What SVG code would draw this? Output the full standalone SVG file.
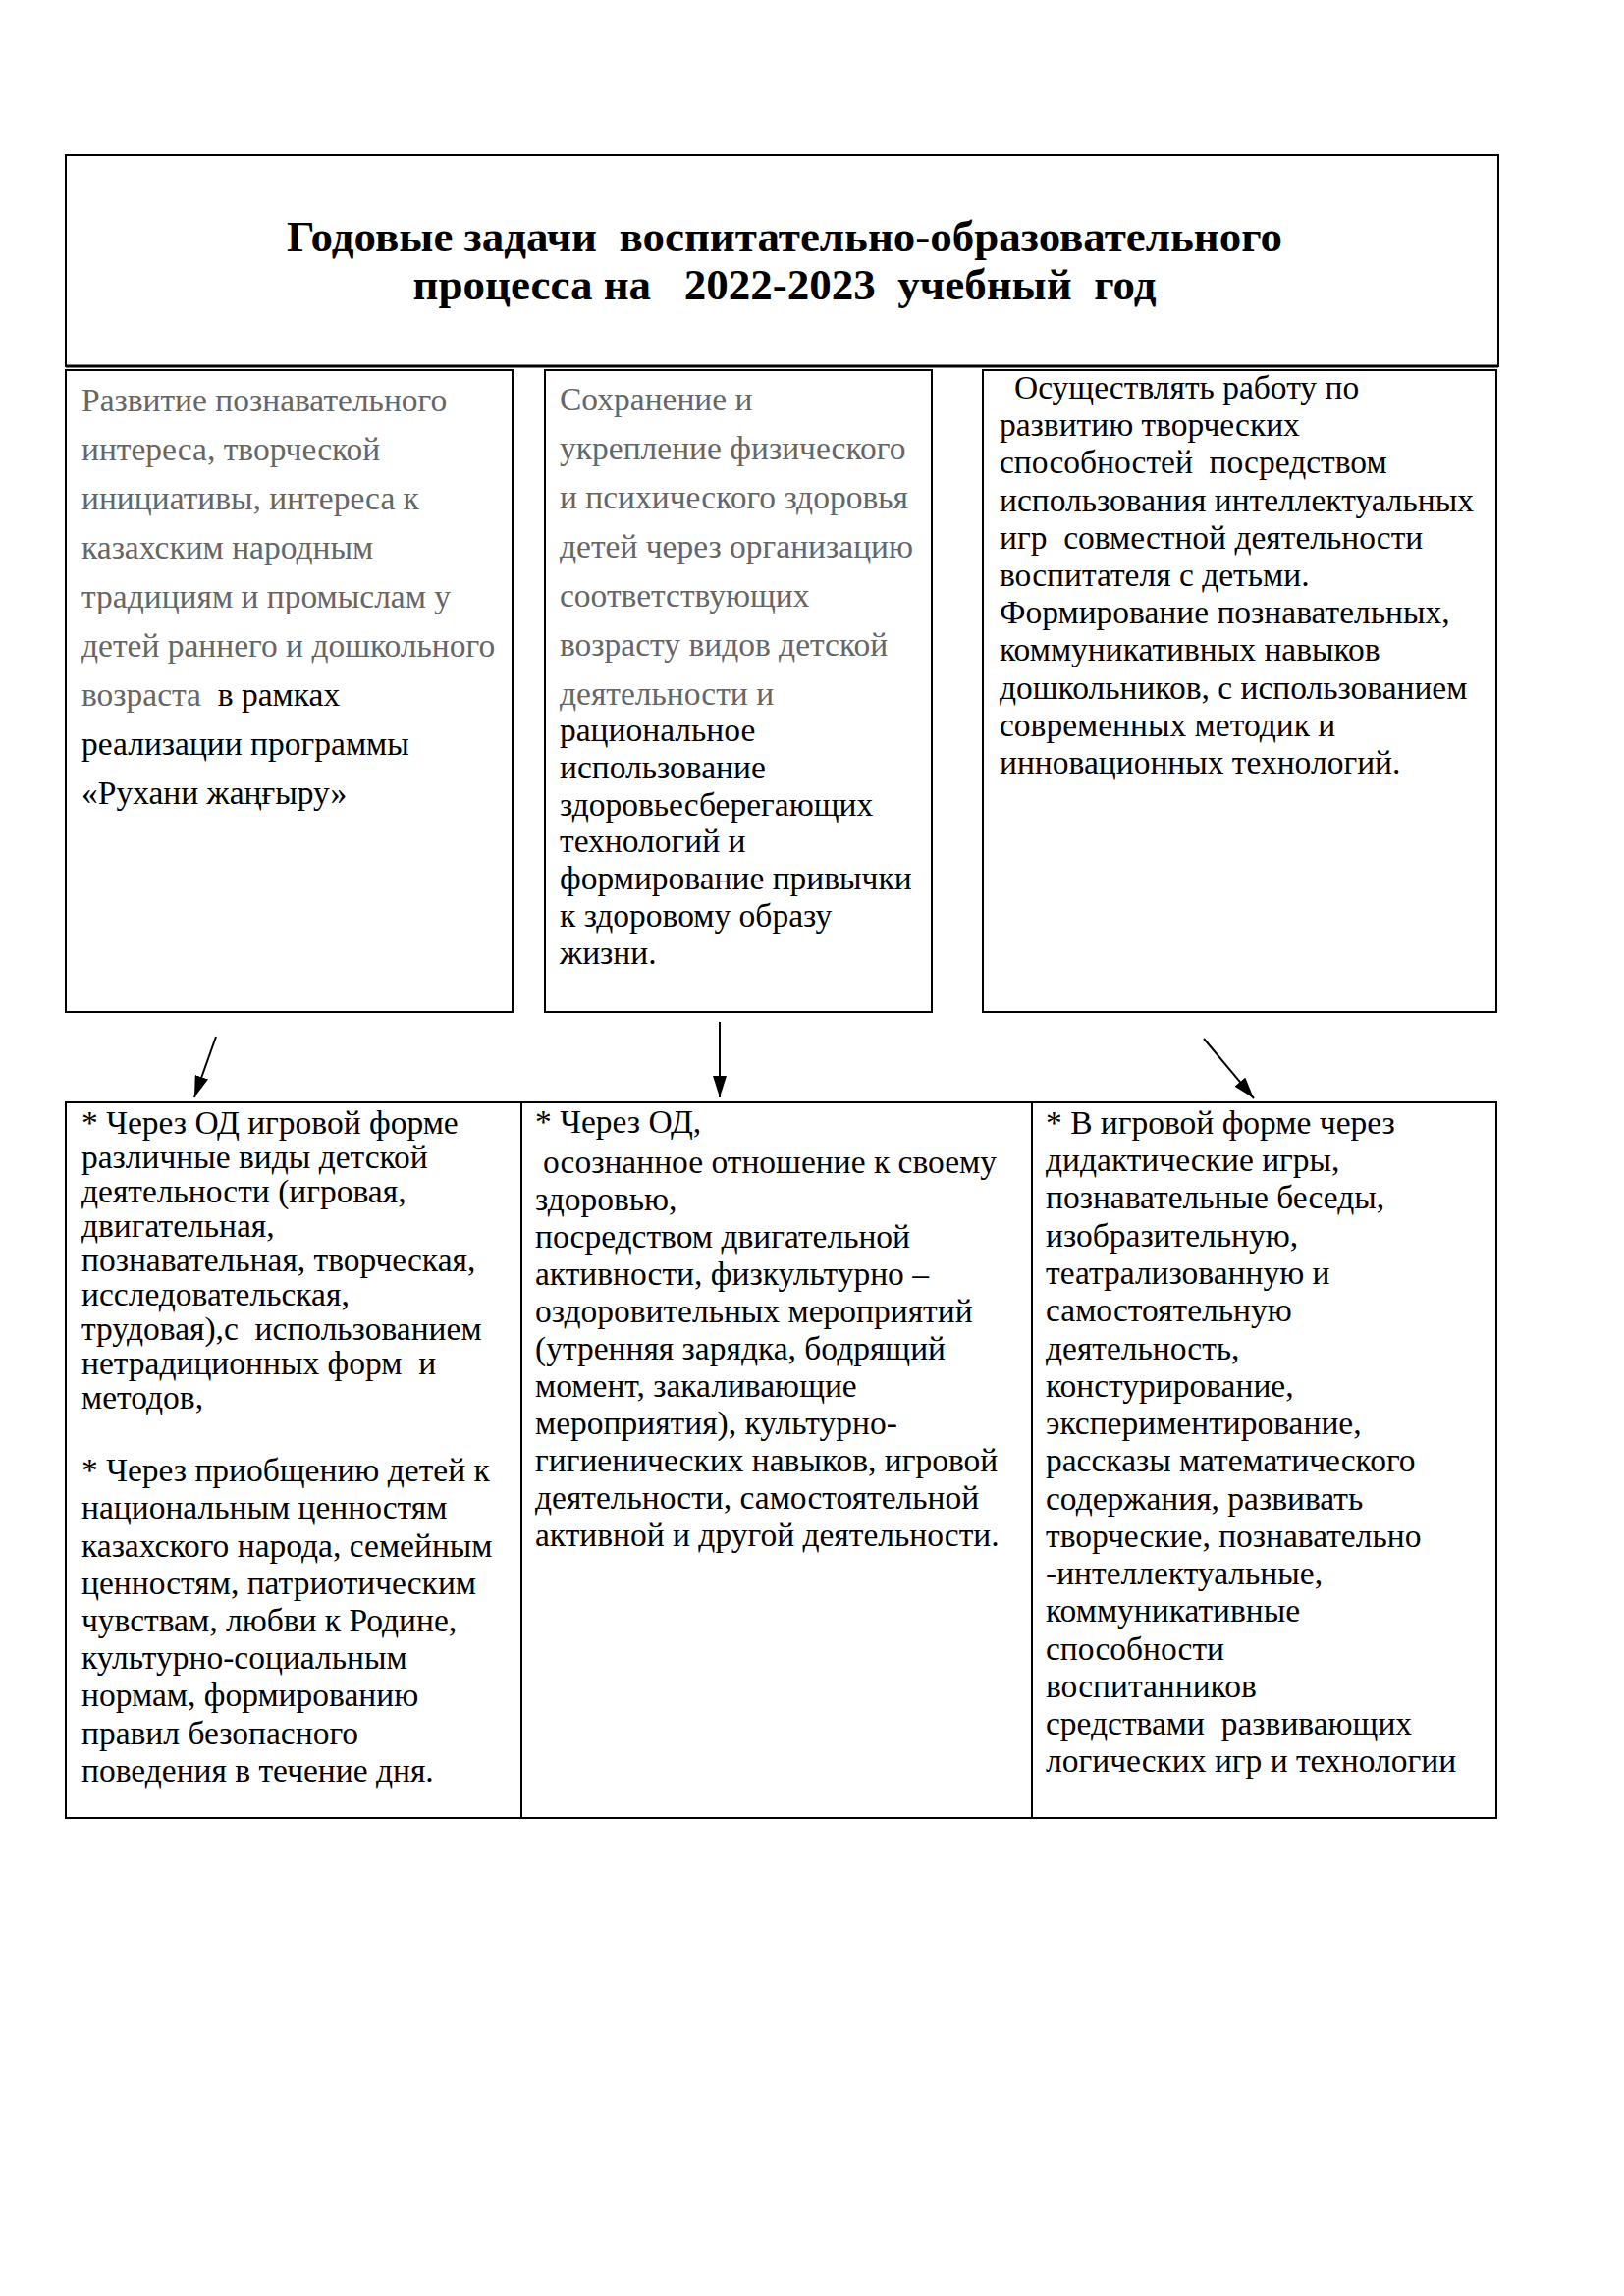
<svg xmlns="http://www.w3.org/2000/svg" width="1654" height="2339" viewBox="0 0 1654 2339" xml:space="preserve">
<style>
.bg{fill:#fff}
.box{fill:none;stroke:#000;stroke-width:2}
.t{font-family:"Liberation Serif","Times New Roman",serif;font-size:33.5px;fill:#000;white-space:pre}
.g{fill:#666}
.title{font-family:"Liberation Serif","Times New Roman",serif;font-size:45px;font-weight:bold;fill:#000;white-space:pre}
.conn{stroke:#000;stroke-width:2;fill:none}
</style>
<defs>
<marker id="ah" markerUnits="userSpaceOnUse" markerWidth="24" markerHeight="14" refX="22" refY="7" orient="auto">
<path d="M0,0 L22,7 L0,14 Z" fill="#000"/>
</marker>
</defs>
<rect class="bg" x="0" y="0" width="1654" height="2339"/>

<g id="title">
<rect class="box" x="67" y="158" width="1459" height="215"/>
<line x1="67" y1="373" x2="1526" y2="373" stroke="#000" stroke-width="3"/>
<text class="title" x="799" y="256" text-anchor="middle">Годовые задачи  воспитательно-образовательного</text>
<text class="title" x="799" y="305" text-anchor="middle">процесса на   2022-2023  учебный  год</text>
</g>

<g id="task1">
<rect class="box" x="67" y="377" width="455" height="654"/>
<text class="t g" x="83" y="419">Развитие познавательного</text>
<text class="t g" x="83" y="469">интереса, творческой</text>
<text class="t g" x="83" y="519">инициативы, интереса к</text>
<text class="t g" x="83" y="569">казахским народным</text>
<text class="t g" x="83" y="619">традициям и промыслам у</text>
<text class="t g" x="83" y="669">детей раннего и дошкольного</text>
<text class="t" x="83" y="719"><tspan class="g">возраста  </tspan>в рамках</text>
<text class="t" x="83" y="769">реализации программы</text>
<text class="t" x="83" y="819">«Рухани жаңғыру»</text>
</g>

<g id="task2">
<rect class="box" x="555" y="377" width="394" height="654"/>
<text class="t g" x="570" y="418">Сохранение и</text>
<text class="t g" x="570" y="468">укрепление физического</text>
<text class="t g" x="570" y="518">и психического здоровья</text>
<text class="t g" x="570" y="568">детей через организацию</text>
<text class="t g" x="570" y="618">соответствующих</text>
<text class="t g" x="570" y="668">возрасту видов детской</text>
<text class="t g" x="570" y="718">деятельности и</text>
<text class="t" x="570" y="755">рациональное</text>
<text class="t" x="570" y="793">использование</text>
<text class="t" x="570" y="831">здоровьесберегающих</text>
<text class="t" x="570" y="868">технологий и</text>
<text class="t" x="570" y="906">формирование привычки</text>
<text class="t" x="570" y="944">к здоровому образу</text>
<text class="t" x="570" y="982">жизни.</text>
</g>

<g id="task3">
<rect class="box" x="1001" y="377" width="523" height="654"/>
<text class="t" x="1033" y="406">Осуществлять работу по</text>
<text class="t" x="1018" y="444">развитию творческих</text>
<text class="t" x="1018" y="482">способностей  посредством</text>
<text class="t" x="1018" y="521">использования интеллектуальных</text>
<text class="t" x="1018" y="559">игр  совместной деятельности</text>
<text class="t" x="1018" y="597">воспитателя с детьми.</text>
<text class="t" x="1018" y="635">Формирование познавательных,</text>
<text class="t" x="1018" y="673">коммуникативных навыков</text>
<text class="t" x="1018" y="712">дошкольников, с использованием</text>
<text class="t" x="1018" y="750">современных методик и</text>
<text class="t" x="1018" y="788">инновационных технологий.</text>
</g>

<g id="connectors">
<line class="conn" x1="220" y1="1056" x2="198" y2="1118" marker-end="url(#ah)"/>
<line class="conn" x1="733" y1="1041" x2="733" y2="1118" marker-end="url(#ah)"/>
<line class="conn" x1="1226" y1="1058" x2="1277" y2="1119" marker-end="url(#ah)"/>
</g>

<g id="methods1">
<rect class="box" x="67" y="1123" width="464" height="729"/>
<text class="t" x="83" y="1155">* Через ОД игровой форме</text>
<text class="t" x="83" y="1190">различные виды детской</text>
<text class="t" x="83" y="1225">деятельности (игровая,</text>
<text class="t" x="83" y="1260">двигательная,</text>
<text class="t" x="83" y="1295">познавательная, творческая,</text>
<text class="t" x="83" y="1330">исследовательская,</text>
<text class="t" x="83" y="1365">трудовая),с  использованием</text>
<text class="t" x="83" y="1400">нетрадиционных форм  и</text>
<text class="t" x="83" y="1435">методов,</text>
<text class="t" x="83" y="1509">* Через приобщению детей к</text>
<text class="t" x="83" y="1547">национальным ценностям</text>
<text class="t" x="83" y="1586">казахского народа, семейным</text>
<text class="t" x="83" y="1624">ценностям, патриотическим</text>
<text class="t" x="83" y="1662">чувствам, любви к Родине,</text>
<text class="t" x="83" y="1700">культурно-социальным</text>
<text class="t" x="83" y="1738">нормам, формированию</text>
<text class="t" x="83" y="1777">правил безопасного</text>
<text class="t" x="83" y="1815">поведения в течение дня.</text>
</g>

<g id="methods2">
<rect class="box" x="531" y="1123" width="520" height="729"/>
<text class="t" x="545" y="1154">* Через ОД,</text>
<text class="t" x="553" y="1195">осознанное отношение к своему</text>
<text class="t" x="545" y="1233">здоровью,</text>
<text class="t" x="545" y="1271">посредством двигательной</text>
<text class="t" x="545" y="1309">активности, физкультурно –</text>
<text class="t" x="545" y="1347">оздоровительных мероприятий</text>
<text class="t" x="545" y="1385">(утренняя зарядка, бодрящий</text>
<text class="t" x="545" y="1423">момент, закаливающие</text>
<text class="t" x="545" y="1461">мероприятия), культурно-</text>
<text class="t" x="545" y="1499">гигиенических навыков, игровой</text>
<text class="t" x="545" y="1537">деятельности, самостоятельной</text>
<text class="t" x="545" y="1575">активной и другой деятельности.</text>
</g>

<g id="methods3">
<rect class="box" x="1051" y="1123" width="473" height="729"/>
<text class="t" x="1065" y="1155">* В игровой форме через</text>
<text class="t" x="1065" y="1193">дидактические игры,</text>
<text class="t" x="1065" y="1231">познавательные беседы,</text>
<text class="t" x="1065" y="1270">изобразительную,</text>
<text class="t" x="1065" y="1308">театрализованную и</text>
<text class="t" x="1065" y="1346">самостоятельную</text>
<text class="t" x="1065" y="1385">деятельность,</text>
<text class="t" x="1065" y="1423">констурирование,</text>
<text class="t" x="1065" y="1461">экспериментирование,</text>
<text class="t" x="1065" y="1499">рассказы математического</text>
<text class="t" x="1065" y="1538">содержания, развивать</text>
<text class="t" x="1065" y="1576">творческие, познавательно</text>
<text class="t" x="1065" y="1614">-интеллектуальные,</text>
<text class="t" x="1065" y="1652">коммуникативные</text>
<text class="t" x="1065" y="1691">способности</text>
<text class="t" x="1065" y="1729">воспитанников</text>
<text class="t" x="1065" y="1767">средствами  развивающих</text>
<text class="t" x="1065" y="1805">логических игр и технологии</text>
</g>
</svg>
